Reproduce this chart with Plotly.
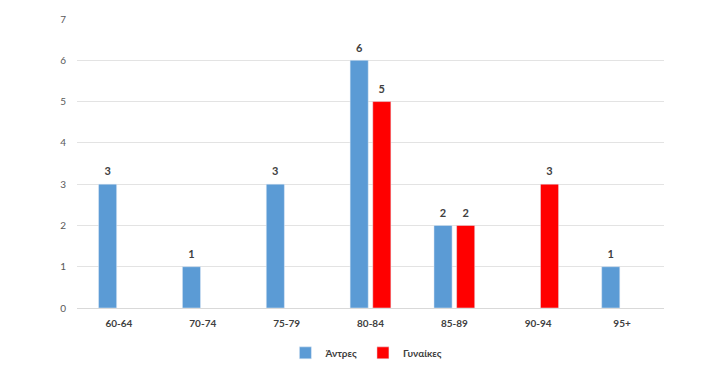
import plotly.graph_objects as go

categories = ["60-64", "70-74", "75-79", "80-84", "85-89", "90-94", "95+"]
men = [3, 1, 3, 6, 2, None, 1]
women = [None, None, None, 5, 2, 3, None]
y_ticks = [0, 1, 2, 3, 4, 5, 6, 7]

def labels(vals):
    return [("" if v is None else str(v)) for v in vals]

colors = {"men": "#5B9BD5", "women": "#FF0000"}

fig = go.Figure()
for key, name, vals in [("men", "<b>Άντρες</b>", men), ("women", "<b>Γυναίκες</b>", women)]:
    fig.add_trace(go.Bar(
        x=categories, y=vals, name=name, marker_color=colors[key],
        offsetgroup=key, alignmentgroup="g",
    ))
for key, vals in [("men", men), ("women", women)]:
    fig.add_trace(go.Scatter(
        x=categories, y=vals, mode="markers+text", text=labels(vals),
        texttemplate="<b>%{text}</b>", textposition="top center",
        marker=dict(size=8, opacity=0), showlegend=False, hoverinfo="skip",
        offsetgroup=key, alignmentgroup="g", cliponaxis=False,
        textfont=dict(family="Lato", size=11, color="#404040"),
    ))

fig.update_layout(
    width=708, height=372,
    margin=dict(l=69, r=52, t=11, b=72, autoexpand=False),
    paper_bgcolor="white", plot_bgcolor="white",
    barmode="group", bargap=0.46, bargroupgap=0.2,
    scattermode="group", scattergap=0.46,
    font=dict(family="Lato", color="#595959"),
    showlegend=True,
    legend=dict(orientation="h", x=0.493, xanchor="center", y=-0.105, yanchor="top",
                font=dict(family="Lato", size=10, color="#404040"),
                itemwidth=30, traceorder="normal"),
)
fig.update_xaxes(showgrid=False, showline=False, ticks="", ticklabelstandoff=8,
                 tickfont=dict(family="Lato", size=10, color="#404040", weight="bold"))
fig.update_yaxes(range=[0, 7], tickvals=y_ticks, showgrid=True, gridcolor="#E3E3E3",
                 gridwidth=1, zeroline=True, zerolinecolor="#D9D9D9", zerolinewidth=1,
                 tickfont=dict(family="Lato", size=10, color="#595959"), ticks="",
                 ticklabelstandoff=10)

fig.write_html("out.html")
